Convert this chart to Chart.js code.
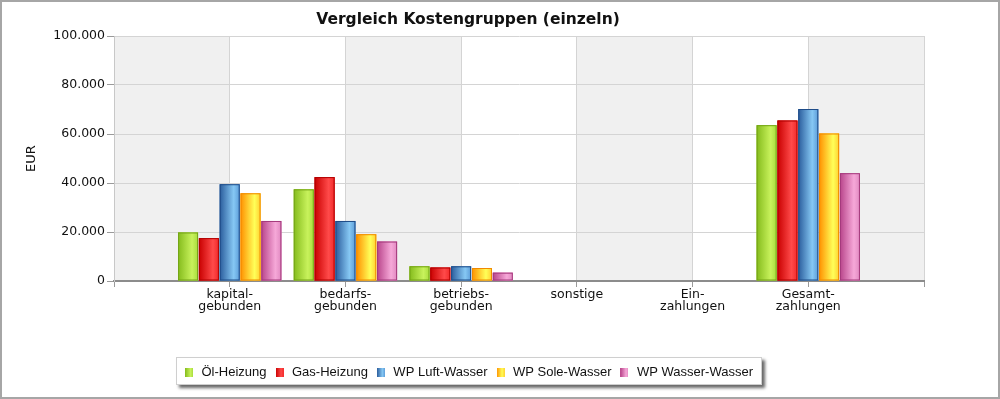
<!DOCTYPE html>
<html>
<head>
<meta charset="utf-8">
<script src="https://cdn.jsdelivr.net/npm/chart.js@4.4.0/dist/chart.umd.min.js"></script>
<style>
    html, body { margin: 0; padding: 0; background: #fff; }
    #frame { width: 1000px; height: 399px; box-sizing: border-box; border: 2px solid #a6a6a6; }
    canvas { display: block; }
</style>
</head>
<body>
<div id="frame"><canvas id="chart" width="996" height="395"></canvas></div>
<script>
// Data (empty first/last categories pad the axis like in the original)
const categories = ['', ['kapital-', 'gebunden'], ['bedarfs-', 'gebunden'], ['betriebs-', 'gebunden'], 'sonstige', ['Ein-', 'zahlungen'], ['Gesamt-', 'zahlungen'], ''];
const seriesNames = ['Öl-Heizung', 'Gas-Heizung', 'WP Luft-Wasser', 'WP Sole-Wasser', 'WP Wasser-Wasser'];
const oelHeizung     = [null, 19800, 37400, 6000, 0, 0, 63600, null];
const gasHeizung     = [null, 17500, 42400, 5500, 0, 0, 65500, null];
const wpLuftWasser   = [null, 39500, 24500, 6000, 0, 0, 70200, null];
const wpSoleWasser   = [null, 35800, 19100, 5300, 0, 0, 60200, null];
const wpWasserWasser = [null, 24500, 16100, 3400, 0, 0, 44000, null];
const yTicks = [0, 20000, 40000, 60000, 80000, 100000];

const seriesData = [oelHeizung, gasHeizung, wpLuftWasser, wpSoleWasser, wpWasserWasser];

// Styles
const barColors = [
    { base: '#9ccc30', dark: '#84bb1c', light: '#c8f25c', end: '#a8dc3c', edge: '#74a416' },
    { base: '#e41010', dark: '#c80000', light: '#ff4a4a', end: '#f22a2a', edge: '#b00000' },
    { base: '#4a88c8', dark: '#2a5c9c', light: '#86c8f4', end: '#5c9cd8', edge: '#1f4c88' },
    { base: '#ffc020', dark: '#ff9000', light: '#ffff58', end: '#ffd030', edge: '#f08a00' },
    { base: '#dc70b0', dark: '#b8448a', light: '#f6a8d8', end: '#e088c0', edge: '#a43a7c' }
];

const fmt = v => String(v).replace(/\B(?=(\d{3})+(?!\d))/g, '.');

// small gradient swatches for the legend
const swatches = barColors.map(c => {
    const cv = document.createElement('canvas');
    cv.width = 8; cv.height = 9;
    const g2 = cv.getContext('2d');
    const g = g2.createLinearGradient(0, 0, 8, 0);
    g.addColorStop(0, c.dark);
    g.addColorStop(0.7, c.light);
    g.addColorStop(1, c.end);
    g2.fillStyle = g;
    g2.fillRect(0, 0, 8, 9);
    return cv;
});

// alternating grey bands behind the plot
const bands = {
    id: 'bands',
    beforeDraw(chart) {
        const { ctx, chartArea: a, scales: { x } } = chart;
        ctx.save();
        ctx.fillStyle = '#f0f0f0';
        for (let i = 0; i < x.ticks.length - 1; i += 2) {
            const l = x.getPixelForTick(i), r = x.getPixelForTick(i + 1);
            ctx.fillRect(l, a.top, r - l, a.bottom - a.top);
        }
        ctx.restore();
    }
};

// white legend box with drop shadow
const legendFrame = {
    id: 'legendFrame',
    beforeDraw(chart) {
        const hb = chart.legend.legendHitBoxes;
        if (!hb || !hb.length) return;
        const ctx = chart.ctx;
        const left = Math.round(Math.min(...hb.map(h => h.left)) - 7);
        const right = Math.round(Math.max(...hb.map(h => h.left + h.width)) + 9);
        const top = Math.round(hb[0].top - 9.5);
        const bottom = Math.round(hb[0].top + hb[0].height + 5.5);
        ctx.save();
        ctx.shadowColor = 'rgba(0,0,0,0.6)';
        ctx.shadowBlur = 3;
        ctx.shadowOffsetX = 3;
        ctx.shadowOffsetY = 3;
        ctx.fillStyle = '#fff';
        ctx.fillRect(left, top, right - left, bottom - top);
        ctx.restore();
        ctx.save();
        ctx.strokeStyle = '#cfcfcf';
        ctx.lineWidth = 1;
        ctx.strokeRect(left + 0.5, top + 0.5, right - left - 1, bottom - top - 1);
        ctx.restore();
    }
};

// horizontal gradient shading on each bar
const barGradient = {
    id: 'barGradient',
    afterDatasetsDraw(chart) {
        const ctx = chart.ctx;
        chart.data.datasets.forEach((ds, di) => {
            const c = barColors[di];
            chart.getDatasetMeta(di).data.forEach(bar => {
                const { x, y, base, width } = bar.getProps(['x', 'y', 'base', 'width'], true);
                if (!isFinite(y) || !isFinite(x) || Math.abs(base - y) < 0.5) return;
                const l = x - width / 2, top = Math.min(y, base), h = Math.abs(base - y);
                const g = ctx.createLinearGradient(l, 0, l + width, 0);
                g.addColorStop(0, c.dark);
                g.addColorStop(0.7, c.light);
                g.addColorStop(1, c.end);
                ctx.save();
                ctx.fillStyle = g;
                ctx.fillRect(l, top, width, h);
                ctx.strokeStyle = c.edge;
                ctx.lineWidth = 1;
                ctx.strokeRect(l + 0.5, top + 0.5, width - 1, h - 1);
                ctx.restore();
            });
        });
    }
};

const tickFont = { family: "'DejaVu Sans', Verdana, sans-serif", size: 12.5, lineHeight: 1 };

new Chart(document.getElementById('chart').getContext('2d'), {
    type: 'bar',
    data: {
        labels: categories,
        datasets: seriesData.map((d, i) => ({
            label: seriesNames[i],
            data: d,
            backgroundColor: barColors[i].base,
            borderWidth: 0,
            categoryPercentage: 0.9,
            barPercentage: 0.96
        }))
    },
    options: {
        responsive: false,
        animation: false,
        layout: { padding: { left: 10, right: 74, top: 0, bottom: 8 } },
        plugins: {
            title: {
                display: true,
                text: 'Vergleich Kostengruppen (einzeln)',
                color: '#111',
                font: { family: "'DejaVu Sans', Verdana, sans-serif", size: 15.5, weight: 'bold', lineHeight: 1.2 },
                padding: { top: 9, bottom: 6.4 }
            },
            legend: {
                position: 'bottom',
                labels: {
                    usePointStyle: true,
                    pointStyleWidth: 12,
                    boxHeight: 9,
                    padding: 7,
                    color: '#111',
                    font: { family: "'Liberation Sans', Arial, sans-serif", size: 13 },
                    generateLabels: chart => chart.data.datasets.map((ds, i) => ({
                        text: ds.label,
                        fillStyle: barColors[i].base,
                        strokeStyle: barColors[i].base,
                        lineWidth: 0,
                        pointStyle: swatches[i],
                        hidden: false,
                        datasetIndex: i,
                        fontColor: '#111'
                    }))
                }
            },
            tooltip: { enabled: false }
        },
        scales: {
            x: {
                offset: false,
                grid: { offset: false, color: '#d4d4d4', tickColor: '#9a9a9a', tickLength: 6 },
                border: { color: '#8c8c8c', width: 2 },
                ticks: { autoSkip: false, maxRotation: 0, padding: 1, color: '#111', font: tickFont },
                afterFit: s => { s.height = 78; }
            },
            y: {
                min: yTicks[0],
                max: yTicks[yTicks.length - 1],
                ticks: { stepSize: yTicks[1] - yTicks[0], padding: 2, color: '#111', font: tickFont, callback: v => fmt(v) },
                grid: { color: '#d4d4d4', tickColor: '#9a9a9a', tickLength: 7 },
                border: { color: '#c8c8c8' },
                title: {
                    display: true,
                    text: 'EUR',
                    color: '#111',
                    font: { family: "'DejaVu Sans', Verdana, sans-serif", size: 13 },
                    padding: { top: 12, bottom: 0 }
                },
                afterFit: s => { s.width = 102; }
            }
        }
    },
    plugins: [bands, legendFrame, barGradient]
});
</script>
</body>
</html>
